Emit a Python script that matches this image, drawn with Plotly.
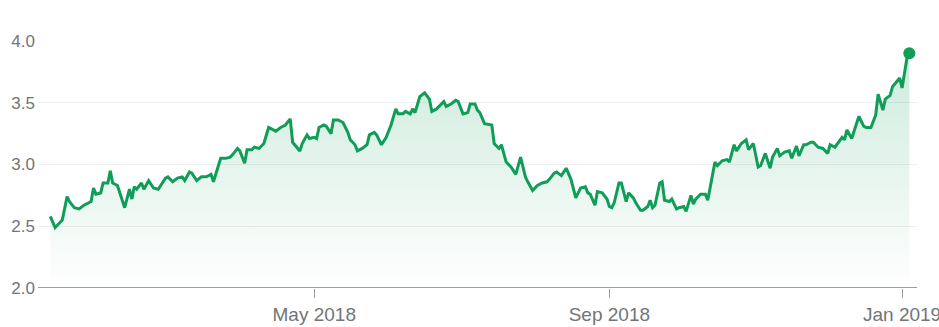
import plotly.graph_objects as go

dates = [
    "2018-01-11", "2018-01-13", "2018-01-16", "2018-01-18", "2018-01-19", "2018-01-21", "2018-01-23", "2018-01-25",
    "2018-01-28", "2018-01-29", "2018-01-30", "2018-02-01", "2018-02-02", "2018-02-04", "2018-02-05", "2018-02-06",
    "2018-02-08", "2018-02-11", "2018-02-13", "2018-02-14", "2018-02-15", "2018-02-16", "2018-02-18", "2018-02-19",
    "2018-02-21", "2018-02-23", "2018-02-25", "2018-02-28", "2018-03-01", "2018-03-03", "2018-03-05", "2018-03-07",
    "2018-03-08", "2018-03-10", "2018-03-11", "2018-03-13", "2018-03-15", "2018-03-17", "2018-03-19", "2018-03-20",
    "2018-03-23", "2018-03-25", "2018-03-27", "2018-03-28", "2018-03-30", "2018-03-31", "2018-04-02", "2018-04-03",
    "2018-04-05", "2018-04-06", "2018-04-08", "2018-04-10", "2018-04-12", "2018-04-14", "2018-04-15", "2018-04-17",
    "2018-04-19", "2018-04-21", "2018-04-22", "2018-04-25", "2018-04-26", "2018-04-28", "2018-04-29", "2018-05-01",
    "2018-05-02", "2018-05-03", "2018-05-05", "2018-05-06", "2018-05-08", "2018-05-09", "2018-05-11", "2018-05-13",
    "2018-05-15", "2018-05-16", "2018-05-18", "2018-05-19", "2018-05-21", "2018-05-23", "2018-05-24", "2018-05-26",
    "2018-05-27", "2018-05-29", "2018-05-31", "2018-06-02", "2018-06-04", "2018-06-05", "2018-06-07", "2018-06-08",
    "2018-06-10", "2018-06-11", "2018-06-12", "2018-06-14", "2018-06-16", "2018-06-18", "2018-06-19", "2018-06-21",
    "2018-06-24", "2018-06-25", "2018-06-27", "2018-06-29", "2018-06-30", "2018-07-02", "2018-07-04", "2018-07-05",
    "2018-07-07", "2018-07-08", "2018-07-09", "2018-07-11", "2018-07-14", "2018-07-15", "2018-07-17", "2018-07-18",
    "2018-07-20", "2018-07-22", "2018-07-24", "2018-07-26", "2018-07-28", "2018-07-29", "2018-07-31", "2018-08-02",
    "2018-08-04", "2018-08-06", "2018-08-07", "2018-08-09", "2018-08-10", "2018-08-12", "2018-08-14", "2018-08-16",
    "2018-08-18", "2018-08-20", "2018-08-22", "2018-08-23", "2018-08-24", "2018-08-26", "2018-08-27", "2018-08-29",
    "2018-08-31", "2018-09-01", "2018-09-02", "2018-09-03", "2018-09-05", "2018-09-06", "2018-09-08", "2018-09-09",
    "2018-09-11", "2018-09-12", "2018-09-14", "2018-09-15", "2018-09-17", "2018-09-18", "2018-09-19", "2018-09-20",
    "2018-09-22", "2018-09-23", "2018-09-24", "2018-09-26", "2018-09-27", "2018-09-29", "2018-09-30", "2018-10-02",
    "2018-10-03", "2018-10-05", "2018-10-06", "2018-10-07", "2018-10-09", "2018-10-11", "2018-10-12", "2018-10-15",
    "2018-10-16", "2018-10-18", "2018-10-20", "2018-10-21", "2018-10-23", "2018-10-24", "2018-10-26", "2018-10-28",
    "2018-10-29", "2018-10-31", "2018-11-02", "2018-11-03", "2018-11-05", "2018-11-07", "2018-11-08", "2018-11-10",
    "2018-11-11", "2018-11-13", "2018-11-15", "2018-11-16", "2018-11-18", "2018-11-19", "2018-11-21", "2018-11-22",
    "2018-11-24", "2018-11-25", "2018-11-27", "2018-11-29", "2018-12-01", "2018-12-02", "2018-12-04", "2018-12-07",
    "2018-12-08", "2018-12-09", "2018-12-11", "2018-12-14", "2018-12-16", "2018-12-17", "2018-12-19", "2018-12-21",
    "2018-12-22", "2018-12-24", "2018-12-25", "2018-12-27", "2018-12-28", "2018-12-31", "2019-01-01", "2019-01-03",
    "2019-01-04",
]

values = [
    2.58, 2.49, 2.55, 2.74, 2.70, 2.65, 2.64, 2.67,
    2.70, 2.81, 2.76, 2.77, 2.85, 2.85, 2.95, 2.85,
    2.83, 2.65, 2.80, 2.72, 2.82, 2.80, 2.85, 2.80,
    2.87, 2.81, 2.80, 2.89, 2.90, 2.86, 2.89, 2.90,
    2.87, 2.94, 2.93, 2.87, 2.90, 2.90, 2.92, 2.86,
    3.05, 3.05, 3.06, 3.08, 3.13, 3.11, 3.01, 3.12,
    3.12, 3.14, 3.13, 3.17, 3.30, 3.28, 3.27, 3.30,
    3.32, 3.37, 3.18, 3.11, 3.17, 3.24, 3.21, 3.22,
    3.21, 3.30, 3.32, 3.31, 3.25, 3.36, 3.36, 3.34,
    3.26, 3.20, 3.16, 3.11, 3.13, 3.16, 3.24, 3.26,
    3.24, 3.16, 3.22, 3.32, 3.45, 3.41, 3.41, 3.43,
    3.41, 3.45, 3.42, 3.55, 3.58, 3.53, 3.43, 3.45,
    3.51, 3.47, 3.49, 3.52, 3.51, 3.41, 3.42, 3.49,
    3.49, 3.44, 3.42, 3.33, 3.32, 3.17, 3.13, 3.16,
    3.02, 2.98, 2.92, 3.06, 2.90, 2.86, 2.79, 2.83,
    2.85, 2.86, 2.88, 2.93, 2.94, 2.91, 2.97, 2.88,
    2.73, 2.81, 2.82, 2.77, 2.76, 2.67, 2.78, 2.77,
    2.72, 2.66, 2.65, 2.69, 2.85, 2.85, 2.70, 2.77,
    2.73, 2.69, 2.63, 2.63, 2.66, 2.71, 2.65, 2.67,
    2.85, 2.86, 2.71, 2.70, 2.72, 2.64, 2.65, 2.66,
    2.62, 2.75, 2.68, 2.72, 2.76, 2.76, 2.71, 3.02,
    2.99, 3.03, 3.04, 3.02, 3.16, 3.11, 3.17, 3.20,
    3.12, 3.17, 2.98, 2.99, 3.09, 2.97, 3.06, 3.13,
    3.07, 3.10, 3.11, 3.05, 3.15, 3.07, 3.16, 3.16,
    3.18, 3.18, 3.14, 3.13, 3.09, 3.16, 3.14, 3.22,
    3.20, 3.28, 3.21, 3.39, 3.31, 3.30, 3.30, 3.40,
    3.57, 3.44, 3.53, 3.56, 3.63, 3.70, 3.62, 3.86,
    3.90,
]

tick_dates = ["2018-05-01", "2018-09-01", "2019-01-01"]
tick_labels = ["May 2018", "Sep 2018", "Jan 2019"]
y_ticks = [2.0, 2.5, 3.0, 3.5, 4.0]
y_tick_labels = ["2.0", "2.5", "3.0", "3.5", "4.0"]

GREEN = "#0f9d58"

fig = go.Figure()
fig.add_trace(go.Scatter(
    x=dates, y=values, mode="lines",
    line=dict(color=GREEN, width=3),
    fill="tozeroy",
    fillgradient=dict(type="vertical", start=2.0, stop=4.0,
                      colorscale=[[0, "rgba(15,157,88,0.0)"], [1, "rgba(15,157,88,0.22)"]]),
    hoverinfo="skip", showlegend=False,
))
fig.add_trace(go.Scatter(
    x=[dates[-1]], y=[values[-1]], mode="markers",
    marker=dict(color=GREEN, size=12),
    cliponaxis=False, hoverinfo="skip", showlegend=False,
))

fig.update_layout(
    width=939, height=327,
    margin=dict(l=38, r=22, t=41, b=39, autoexpand=False),
    paper_bgcolor="white", plot_bgcolor="white",
    font=dict(family="Arial, Liberation Sans, sans-serif", size=17, color="#70757a"),
    xaxis=dict(
        type="date", automargin=False,
        range=["2018-01-05 21:00", "2019-01-07 05:00"],
        tickvals=tick_dates, ticktext=tick_labels,
        ticklabeloverflow="allow",
        showgrid=False, zeroline=False,
        showline=False,
        ticks="outside", ticklen=9, tickcolor="#9e9e9e", tickwidth=1,
        tickfont=dict(size=19, color="#70757a"),
    ),
    yaxis=dict(
        automargin=False,
        range=[2.0, 4.0],
        tickvals=y_ticks, ticktext=y_tick_labels,
        showgrid=True, gridcolor="#eeeeee", gridwidth=1,
        zeroline=False, showline=False, ticks="",
        ticklabelstandoff=2,
        tickfont=dict(size=17, color="#70757a"),
    ),
    shapes=[dict(type="line", xref="paper", yref="y", x0=0, x1=1, y0=2.0, y1=2.0,
                 line=dict(color="#9e9e9e", width=2), layer="above")],
)

fig.write_html("out.html")
